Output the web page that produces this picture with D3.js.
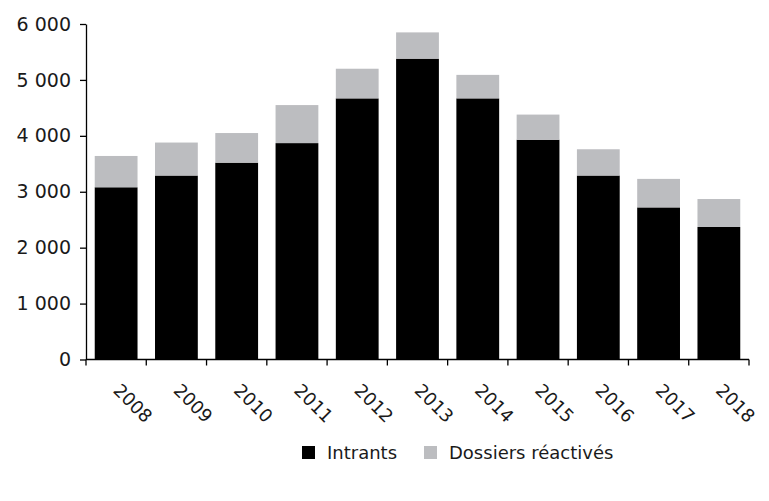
<!DOCTYPE html>
<html>
<head>
<meta charset="utf-8">
<script src="https://cdn.jsdelivr.net/npm/d3@7"></script>
<style>
  html, body { margin: 0; padding: 0; background: #fff; }
  svg { display: block; font-family: "DejaVu Sans", sans-serif; }
</style>
</head>
<body>
<svg id="chart" width="769" height="501"></svg>
<script>
// Annual case counts: new cases ("Intrants") and reactivated files
const years = ["2008", "2009", "2010", "2011", "2012", "2013", "2014", "2015", "2016", "2017", "2018"];
const intrants = [3080, 3290, 3520, 3870, 4670, 5380, 4670, 3930, 3290, 2720, 2370];
const reactives = [560, 590, 530, 680, 530, 470, 420, 450, 470, 510, 500];
const yTicks = [0, 1000, 2000, 3000, 4000, 5000, 6000];
const seriesNames = ["Intrants", "Dossiers réactivés"];
const seriesColors = ["#000000", "#bcbdc0"];

const svg = d3.select("#chart");
const plotLeft = 86, plotRight = 749, plotTop = 24, plotBottom = 359.5;

const x = d3.scaleBand().domain(years).range([plotLeft, plotRight])
  .paddingInner(0.29).paddingOuter(0.145);
const y = d3.scaleLinear().domain([0, 6000]).range([plotBottom, plotTop]);

const fr = d3.formatLocale({ decimal: ",", thousands: " ", grouping: [3], currency: ["", " €"] });
const fmt = fr.format(",d");

// Stack the two series
const rows = years.map((yr, i) => ({ year: yr, Intrants: intrants[i], "Dossiers réactivés": reactives[i] }));
const stacked = d3.stack().keys(seriesNames)(rows);

svg.append("g").selectAll("g")
  .data(stacked)
  .join("g")
  .attr("fill", (d, i) => seriesColors[i])
  .selectAll("rect")
  .data(d => d)
  .join("rect")
  .attr("x", d => x(d.data.year))
  .attr("width", x.bandwidth())
  .attr("y", d => y(d[1]))
  .attr("height", d => y(d[0]) - y(d[1]));

// Y axis
const yAxis = svg.append("g")
  .attr("transform", `translate(${plotLeft},0)`)
  .call(d3.axisLeft(y).tickValues(yTicks).tickFormat(fmt).tickSize(6).tickPadding(9).tickSizeOuter(0));
yAxis.selectAll("text").attr("font-size", 19).attr("fill", "#1a1a1a").attr("font-family", "DejaVu Sans, sans-serif");
yAxis.selectAll("line, path").attr("stroke", "#000").attr("stroke-width", 1.3);

// X axis: baseline with ticks at category boundaries
const step = x.step();
const bounds = d3.range(years.length + 1).map(i => plotLeft + i * step);
const xg = svg.append("g");
xg.append("line")
  .attr("x1", plotLeft).attr("x2", plotRight)
  .attr("y1", plotBottom).attr("y2", plotBottom)
  .attr("stroke", "#000").attr("stroke-width", 1.3);
xg.selectAll("line.tick")
  .data(bounds)
  .join("line")
  .attr("class", "tick")
  .attr("x1", d => d).attr("x2", d => d)
  .attr("y1", plotBottom).attr("y2", plotBottom + 6)
  .attr("stroke", "#000").attr("stroke-width", 1.3);

xg.selectAll("text")
  .data(years)
  .join("text")
  .attr("transform", d => `translate(${x(d) + x.bandwidth() / 2 - 4},${plotBottom + 32}) rotate(45)`)
  .attr("text-anchor", "start")
  .attr("font-size", 18)
  .attr("fill", "#1a1a1a")
  .text(d => d);

// Legend
const legendX = [302, 424];
const legend = svg.append("g");
seriesNames.forEach((name, i) => {
  legend.append("rect")
    .attr("x", legendX[i]).attr("y", 446)
    .attr("width", 13).attr("height", 13)
    .attr("fill", seriesColors[i]);
  legend.append("text")
    .attr("x", legendX[i] + 25).attr("y", 459)
    .attr("font-size", 18)
    .attr("fill", "#1a1a1a")
    .text(name);
});
</script>
</body>
</html>
